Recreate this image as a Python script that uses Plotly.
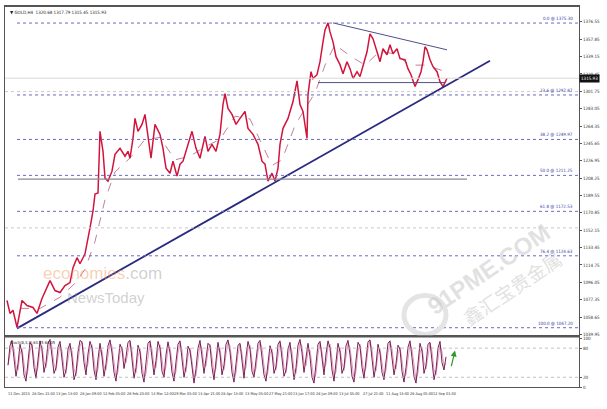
import plotly.graph_objects as go

# ---------------- data ----------------
bar_idx = [7, 10, 13, 17, 22, 27, 33, 37, 42, 47, 50, 55, 60, 65, 70, 73, 77, 80, 85, 90,
           93, 95, 98, 100, 103, 105, 108, 112, 115, 120, 125, 128, 130, 133, 135, 138, 142, 145, 148, 151,
           155, 160, 163, 166, 170, 173, 177, 180, 183, 187, 192, 196, 200, 205, 208, 212, 216, 220, 223, 225,
           228, 232, 236, 240, 245, 248, 253, 258, 262, 265, 268, 272, 275, 278, 280, 283, 288, 293, 297, 300,
           303, 307, 308, 311, 313, 317, 320, 323, 325, 328, 330, 333, 336, 340, 343, 347, 350, 353, 357, 360,
           363, 367, 370, 373, 377, 380, 383, 387, 390, 393, 397, 400, 405, 408, 411, 415, 418, 421, 423, 425,
           427, 430, 433, 437, 440, 443, 447]
close = [1076.5, 1062.6, 1066.0, 1047.6, 1076.5, 1071.1, 1069.0, 1062.6, 1078.6, 1090.4, 1097.9, 1087.2, 1085.1, 1092.6, 1095.8, 1111.8, 1122.6, 1116.1, 1126.8, 1154.7,
         1172.9, 1191.1, 1192.2, 1258.7, 1237.2, 1208.3, 1205.1, 1215.8, 1234.0, 1240.4, 1231.9, 1237.2, 1229.7, 1251.2, 1272.6, 1258.7, 1266.2, 1276.9, 1251.2, 1229.7,
         1266.2, 1255.4, 1240.4, 1219.0, 1213.6, 1226.5, 1210.4, 1223.3, 1226.5, 1240.4, 1258.7, 1240.4, 1229.7, 1253.3, 1237.2, 1244.7, 1237.2, 1255.4, 1287.6, 1299.4,
         1283.3, 1276.9, 1266.2, 1272.6, 1280.1, 1261.9, 1255.4, 1244.7, 1226.5, 1223.3, 1205.1, 1213.6, 1205.1, 1219.0, 1244.7, 1261.9, 1272.6, 1290.8, 1313.0, 1287.6,
         1280.1, 1251.2, 1298.3, 1322.9, 1315.5, 1319.7, 1333.7, 1355.1, 1368.0, 1375.5, 1365.8, 1355.1, 1339.1, 1330.5, 1320.8, 1333.7, 1326.2, 1315.5, 1322.9, 1317.6,
         1330.5, 1344.4, 1363.7, 1358.3, 1344.4, 1333.7, 1347.6, 1341.2, 1351.9, 1342.3, 1347.6, 1336.9, 1335.8, 1326.2, 1319.7, 1306.9, 1314.4, 1322.9, 1333.7, 1349.8,
         1346.5, 1335.8, 1328.3, 1322.9, 1312.2, 1306.9, 1315.9]

ma_idx = [20, 40, 60, 75, 85, 95, 105, 115, 130, 145, 160, 175, 190, 205, 220, 235, 250, 262, 272, 282,
          295, 305, 315, 325, 335, 350, 365, 380, 395, 410, 425, 440, 447]
ma_val = [1068, 1068, 1080, 1095, 1110, 1140, 1185, 1215, 1230, 1250, 1252, 1228, 1232, 1242, 1250, 1275, 1272, 1245, 1222, 1228,
          1265, 1283, 1300, 1330, 1352, 1340, 1330, 1345, 1342, 1330, 1330, 1325, 1322]

trend_x = [17, 490]
trend_y = [1046.5, 1334.8]
resist_x = [333, 447]
resist_y = [1375.5, 1346.5]
support_x = [318, 445]
support_y = [1311.2, 1311.2]
mid_line_x = [18, 467]
mid_line_y = [1207.2, 1207.2]

fib_pct = ["0.0", "23.6", "38.2", "50.0", "61.8", "76.4", "100.0"]
fib_val = [1375.30, 1297.87, 1249.97, 1211.25, 1172.53, 1124.63, 1047.20]
grey_levels = [1301.5, 1154.7]
bid_price = 1315.93

ytick_vals = [1376.55, 1357.85, 1339.15, 1320.45, 1301.75, 1283.05, 1264.35, 1245.65, 1226.95, 1208.25,
              1189.55, 1170.85, 1152.15, 1133.45, 1114.75, 1096.05, 1077.35, 1058.65, 1039.95]

xlabel_pos = [6, 30, 54, 78, 101, 125, 149, 172, 196, 219, 243, 267, 291, 314, 337, 361, 384, 408, 431]
xlabel_txt = ["11 Dec 2015", "28 Dec 21:00", "13 Jan 13:00", "28 Jan 09:00", "12 Feb 05:00", "26 Feb 20:00",
              "14 Mar 12:00", "29 Mar 05:00", "13 Apr 21:00", "28 Apr 13:00", "13 May 05:00", "27 May 21:00",
              "13 Jun 17:00", "28 Jun 09:00", "13 Jul 05:00", "27 Jul 21:00", "11 Aug 13:00", "26 Aug 05:00",
              "12 Sep 01:00"]

stoch_k = [45, 85, 96, 60, 22, 48, 88, 70, 25, 12, 55, 92, 85, 40, 18, 62, 95, 75, 30, 50,
           90, 98, 65, 28, 40, 82, 94, 55, 20, 35, 78, 90, 60, 15, 30, 72, 96, 92, 50, 25,
           68, 94, 80, 35, 15, 58, 90, 62, 22, 48, 85, 97, 70, 30, 12, 50, 88, 78, 38, 62,
           92, 96, 55, 18, 40, 86, 72, 28, 10, 45, 90, 95, 60, 25, 55, 94, 80, 32, 20, 66,
           93, 70, 30, 12, 52, 88, 95, 58, 20, 42, 84, 75, 35, 8, 38, 80, 96, 62, 28, 58,
           90, 85, 40, 15, 60, 92, 68, 25, 45, 88, 97, 72, 30, 10, 48, 86, 90, 50, 18, 62,
           94, 78, 32, 20, 55, 90, 96, 65, 25, 12, 50, 85, 70, 28, 42, 88, 95, 60, 22, 35,
           78, 92, 55, 15, 40, 86, 98, 70, 30, 58, 90, 62, 20, 8, 45, 88, 94, 52, 25, 68,
           95, 80, 35, 12, 50, 90, 72, 28, 40, 85, 96, 66, 22, 10, 55, 92, 84, 40, 18, 60,
           93, 97, 58, 20, 45, 88, 70, 30, 15, 52, 90, 95, 62, 25, 48, 86, 78, 32, 10, 40,
           82, 95, 60, 22, 8, 50, 90, 74, 28, 45, 88, 92, 55, 15, 35, 80, 94, 50, 35, 62]
stoch_d = [45, 65, 90, 78, 41, 35, 68, 79, 48, 19, 34, 74, 89, 63, 29, 40, 79, 85, 53, 40,
           70, 94, 82, 47, 34, 61, 88, 75, 38, 28, 57, 84, 75, 38, 23, 51, 84, 94, 71, 38,
           47, 81, 87, 58, 25, 37, 74, 76, 42, 35, 67, 91, 84, 50, 21, 31, 69, 83, 58, 50,
           77, 94, 76, 37, 29, 63, 79, 50, 19, 28, 68, 93, 78, 43, 40, 75, 87, 56, 26, 43,
           80, 82, 50, 21, 32, 70, 92, 77, 39, 31, 63, 80, 55, 22, 23, 59, 88, 79, 45, 43,
           74, 88, 63, 28, 38, 76, 80, 47, 35, 67, 93, 85, 51, 20, 29, 67, 88, 70, 34, 40,
           78, 86, 55, 26, 38, 73, 93, 81, 45, 19, 31, 68, 78, 49, 35, 65, 92, 78, 41, 29,
           57, 85, 74, 35, 28, 63, 92, 84, 50, 44, 74, 76, 41, 14, 27, 67, 91, 73, 39, 47,
           82, 88, 58, 24, 31, 70, 81, 50, 34, 63, 91, 81, 44, 16, 33, 74, 88, 62, 29, 39,
           77, 95, 78, 39, 33, 67, 79, 50, 23, 34, 71, 93, 79, 44, 37, 67, 82, 55, 21, 25,
           61, 89, 78, 41, 15, 29, 70, 82, 51, 37, 67, 90, 74, 35, 25, 58, 87, 72, 43, 49]
stoch_x = list(range(8, 448, 2))[:len(stoch_k)]
stoch_levels = [80, 20]

# ---------------- figure ----------------
FONT = "Liberation Sans Narrow, DejaVu Sans Condensed, Liberation Sans"
XMAX = 579
fig = go.Figure()

fig.add_trace(go.Scatter(x=ma_idx, y=ma_val, mode="lines", line=dict(color="#b06080", width=0.8, dash="dash"),
                         xaxis="x", yaxis="y", hoverinfo="skip"))
fig.add_trace(go.Scatter(x=bar_idx, y=close, mode="lines", line=dict(color="#d2143c", width=1.5),
                         xaxis="x", yaxis="y", hoverinfo="skip"))
fig.add_trace(go.Scatter(x=trend_x, y=trend_y, mode="lines", line=dict(color="#2a2a80", width=1.8),
                         xaxis="x", yaxis="y", hoverinfo="skip"))
fig.add_trace(go.Scatter(x=resist_x, y=resist_y, mode="lines", line=dict(color="#50508a", width=1),
                         xaxis="x", yaxis="y", hoverinfo="skip"))
fig.add_trace(go.Scatter(x=support_x, y=support_y, mode="lines", line=dict(color="#50508a", width=1),
                         xaxis="x", yaxis="y", hoverinfo="skip"))
fig.add_trace(go.Scatter(x=mid_line_x, y=mid_line_y, mode="lines", line=dict(color="#8a8aa0", width=1.2),
                         xaxis="x", yaxis="y", hoverinfo="skip"))

fig.add_trace(go.Scatter(x=stoch_x, y=stoch_d, mode="lines", line=dict(color="#e290c0", width=0.9),
                         xaxis="x2", yaxis="y2", hoverinfo="skip"))
fig.add_trace(go.Scatter(x=stoch_x, y=stoch_k, mode="lines", line=dict(color="#6a0a40", width=0.9),
                         xaxis="x2", yaxis="y2", hoverinfo="skip"))

shapes = []
for v in fib_val:
    shapes.append(dict(type="line", xref="x", yref="y", x0=17, x1=XMAX, y0=v, y1=v,
                       line=dict(color="#6a6ac0", width=1, dash="dot")))
for v in grey_levels:
    shapes.append(dict(type="line", xref="x", yref="y", x0=5, x1=XMAX, y0=v, y1=v,
                       line=dict(color="#c8c8c8", width=1, dash="dot")))
shapes.append(dict(type="line", xref="x", yref="y", x0=5, x1=XMAX, y0=bid_price, y1=bid_price,
                   line=dict(color="#d8d8d8", width=1)))
for v in stoch_levels:
    shapes.append(dict(type="line", xref="x2", yref="y2", x0=5, x1=XMAX, y0=v, y1=v,
                       line=dict(color="#b0b0b0", width=0.8, dash="dot")))
shapes.append(dict(type="line", xref="paper", yref="paper", x0=0, x1=1, y0=0.133, y1=0.133,
                   line=dict(color="#555555", width=2)))
shapes.append(dict(type="circle", xref="x", yref="y", x0=404, x1=446, y0=1040, y1=1082,
                   line=dict(color="#e4e4e4", width=5)))

ann = []
for p, v in zip(fib_pct, fib_val):
    ann.append(dict(x=575, y=v, xref="x", yref="y", text=f"{p} @ {v:.2f}", showarrow=False,
                    xanchor="right", yanchor="bottom", font=dict(size=4.5, color="#3a3aa0", family=FONT)))
for pos, t in zip(xlabel_pos, xlabel_txt):
    ann.append(dict(x=pos, y=-0.006, xref="x", yref="paper", text=t, showarrow=False,
                    xanchor="left", yanchor="top", font=dict(size=3.8, color="#333333", family=FONT)))
ann.append(dict(x=1, y=bid_price, xref="paper", yref="y", text=f"{bid_price:.2f}", showarrow=False,
                xanchor="left", yanchor="middle", bgcolor="#111111", borderpad=1,
                font=dict(size=4.5, color="#ffffff", family=FONT)))
ann.append(dict(x=0.006, y=0.997, xref="paper", yref="paper", showarrow=False, xanchor="left", yanchor="top",
                text="▼ GOLD,H4  1320.68 1317.79 1315.45 1315.93", font=dict(size=4.5, color="#222222", family=FONT)))
ann.append(dict(x=0.006, y=0.129, xref="paper", yref="paper", showarrow=False, xanchor="left", yanchor="top",
                text="Stoch(8,3,3) 63.15 64.05", font=dict(size=4, color="#222222", family=FONT)))
ann.append(dict(x=455, y=75, ax=451, ay=40, xref="x2", yref="y2", axref="x2", ayref="y2", text="",
                showarrow=True, arrowhead=2, arrowsize=1, arrowwidth=1.2, arrowcolor="#2a9a2a"))
ann.append(dict(x=102, y=1106, xref="x", yref="y", showarrow=False,
                text="<span style='color:rgba(240,150,90,0.45)'>economies</span><span style='color:rgba(150,150,150,0.45)'>.com</span>",
                font=dict(size=17, family="Liberation Sans")))
ann.append(dict(x=106, y=1080, xref="x", yref="y", showarrow=False, text="NewsToday",
                font=dict(size=15, color="rgba(150,150,150,0.45)", family="Liberation Sans")))
ann.append(dict(x=488, y=1110, xref="x", yref="y", showarrow=False, text="<b>91PME.COM</b>", textangle=-34,
                font=dict(size=24, color="rgba(200,200,200,0.55)", family="Liberation Sans")))
ann.append(dict(x=512, y=1090, xref="x", yref="y", showarrow=False, text="鑫汇宝贵金属", textangle=-34,
                font=dict(size=19, color="rgba(200,200,200,0.55)", family="Noto Sans CJK SC")))

fig.update_layout(
    width=607, height=409,
    margin=dict(l=5, r=28, t=5, b=22),
    paper_bgcolor="#ffffff", plot_bgcolor="#ffffff",
    showlegend=False, hovermode=False,
    font=dict(family=FONT, size=4.5, color="#333333"),
    shapes=shapes, annotations=ann,
    xaxis=dict(domain=[0, 1], anchor="y", range=[5, XMAX], showticklabels=False, showgrid=False,
               zeroline=False, showline=True, mirror=True, linecolor="#555555", linewidth=1.5, ticks=""),
    yaxis=dict(domain=[0.136, 1], anchor="x", side="right", range=[1039.0, 1392.6], tickvals=ytick_vals,
               ticktext=[f"{v:.2f}" for v in ytick_vals], showgrid=False, zeroline=False, showline=True,
               mirror=True, linecolor="#555555", linewidth=1, ticks="outside", ticklen=2, tickcolor="#555555",
               tickfont=dict(size=4.5, color="#333333"), automargin=False),
    xaxis2=dict(domain=[0, 1], anchor="y2", range=[5, XMAX], showticklabels=False, showgrid=False,
                zeroline=False, showline=True, mirror=True, linecolor="#555555", linewidth=1, ticks=""),
    yaxis2=dict(domain=[0.0, 0.131], anchor="x2", side="right", range=[0, 102.5], tickvals=[100, 80, 20, 0],
                showgrid=False, zeroline=False, showline=True, mirror=True, linecolor="#555555", linewidth=1,
                ticks="outside", ticklen=2, tickcolor="#555555", tickfont=dict(size=4.5, color="#333333"),
                automargin=False),
)

fig.write_html("out.html", config={"displayModeBar": False},
               post_script="document.body.style.margin='0';document.body.style.padding='0';")
